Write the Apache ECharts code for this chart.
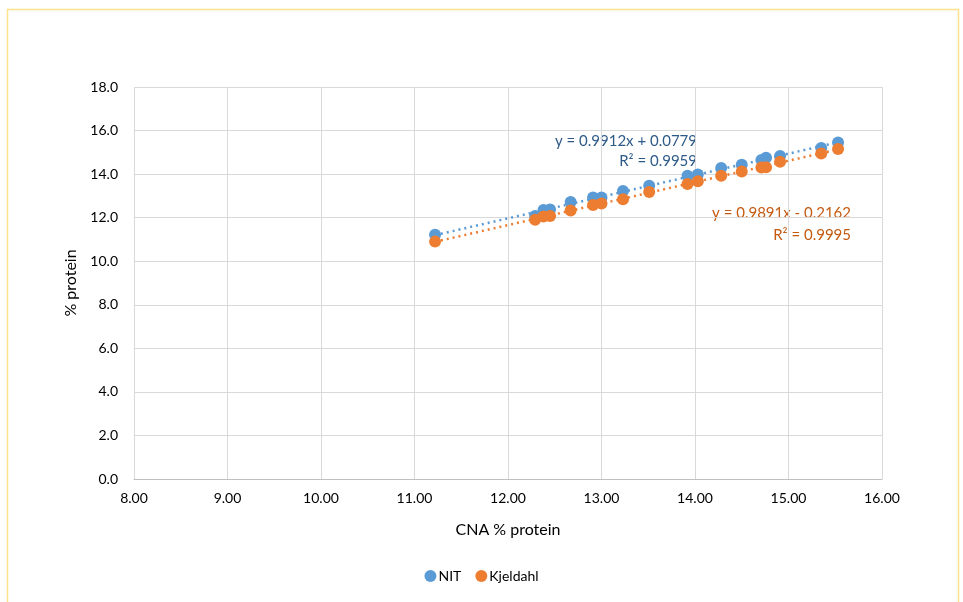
<!DOCTYPE html>
<html><head><meta charset="utf-8">
<script src="https://cdn.jsdelivr.net/npm/echarts@6/dist/echarts.min.js"></script>
<style>html,body{margin:0;padding:0;background:#fff}#c{width:963px;height:602px}</style>
</head><body><div id="c"></div>
<script>
const cnaX = [11.22, 12.29, 12.38, 12.45, 12.67, 12.91, 13.00, 13.23, 13.51, 13.92, 14.03, 14.28, 14.50, 14.71, 14.76, 14.91, 15.35, 15.53];
const nitY = [11.22, 12.08, 12.35, 12.37, 12.72, 12.93, 12.93, 13.22, 13.47, 13.93, 13.98, 14.28, 14.43, 14.65, 14.75, 14.83, 15.20, 15.45];
const kjY  = [10.90, 11.90, 12.05, 12.08, 12.33, 12.58, 12.65, 12.85, 13.18, 13.55, 13.67, 13.92, 14.12, 14.30, 14.32, 14.57, 14.95, 15.15];
const seriesNames = ['NIT', 'Kjeldahl'];
const nitEq = ['y = 0.9912x + 0.0779', 'R² = 0.9959'];
const kjEq = ['y = 0.9891x - 0.2162', 'R² = 0.9995'];

function fit(xs, ys) {
  const n = xs.length;
  let sx = 0, sy = 0, sxx = 0, sxy = 0;
  for (let i = 0; i < n; i++) { sx += xs[i]; sy += ys[i]; sxx += xs[i]*xs[i]; sxy += xs[i]*ys[i]; }
  const m = (n*sxy - sx*sy) / (n*sxx - sx*sx);
  const b = (sy - m*sx) / n;
  const x0 = Math.min(...xs), x1 = Math.max(...xs);
  return [[x0, m*x0 + b], [x1, m*x1 + b]];
}
const font = 'Lato, Noto Sans, sans-serif';
const c1 = '#5B9BD5', c2 = '#ED7D31';
const chart = echarts.init(document.getElementById('c'));
chart.setOption({
  animation: false,
  backgroundColor: '#fff',
  grid: { left: 134, right: 81, top: 87, bottom: 123 },
  xAxis: {
    type: 'value', min: 8, max: 16, interval: 1,
    name: 'CNA % protein', nameLocation: 'middle', nameGap: 43,
    nameTextStyle: { fontSize: 16, color: '#000', fontFamily: font },
    axisLabel: { formatter: v => v.toFixed(2), fontSize: 14, color: '#000', margin: 12, fontFamily: font },
    axisLine: { show: true, lineStyle: { color: '#bfbfbf' } },
    axisTick: { show: false },
    splitLine: { show: true, lineStyle: { color: '#d9d9d9' } }
  },
  yAxis: {
    type: 'value', min: 0, max: 18, interval: 2,
    name: '% protein', nameLocation: 'middle', nameGap: 55,
    nameTextStyle: { fontSize: 16, color: '#000', fontFamily: font },
    axisLabel: { formatter: v => v.toFixed(1), fontSize: 14, color: '#000', margin: 16, fontFamily: font },
    axisLine: { show: false },
    axisTick: { show: false },
    splitLine: { show: true, lineStyle: { color: '#d9d9d9' } }
  },
  legend: {
    bottom: 14, left: 'center', itemWidth: 12, itemHeight: 12, itemGap: 14,
    icon: 'circle',
    data: seriesNames,
    textStyle: { fontSize: 14, color: '#000', fontFamily: font, padding: [0, 0, 0, -3] }
  },
  series: [
    { name: seriesNames[0], type: 'scatter', symbolSize: 12, itemStyle: { color: c1, opacity: 1 }, z: 3,
      data: cnaX.map((x, i) => [x, nitY[i]]) },
    { name: seriesNames[1], type: 'scatter', symbolSize: 12, itemStyle: { color: c2, opacity: 1 }, z: 4,
      data: cnaX.map((x, i) => [x, kjY[i]]) },
    { type: 'line', data: fit(cnaX, nitY), symbol: 'none', silent: true, z: 2,
      lineStyle: { color: c1, width: 2.5, type: [2, 4] } },
    { type: 'line', data: fit(cnaX, kjY), symbol: 'none', silent: true, z: 2,
      lineStyle: { color: c2, width: 2.5, type: [2, 4] } }
  ],
  graphic: [
    { type: 'rect', shape: { x: 7.5, y: 9.5, width: 951, height: 600 }, style: { fill: 'none', stroke: '#FFE28A', lineWidth: 1.5 }, silent: true },
    { type: 'text', x: 697, y: 134, style: { text: nitEq[0], fill: '#2E5A88', font: '15px ' + font, align: 'right', textAlign: 'right' } },
    { type: 'text', x: 697, y: 154, style: { text: nitEq[1], fill: '#2E5A88', font: '15px ' + font, align: 'right', textAlign: 'right' } },
    { type: 'text', x: 851, y: 206, style: { text: kjEq[0], fill: '#C55A11', font: '15px ' + font, align: 'right', textAlign: 'right' } },
    { type: 'text', x: 851, y: 228, style: { text: kjEq[1], fill: '#C55A11', font: '15px ' + font, align: 'right', textAlign: 'right' } }
  ]
});
</script></body></html>
